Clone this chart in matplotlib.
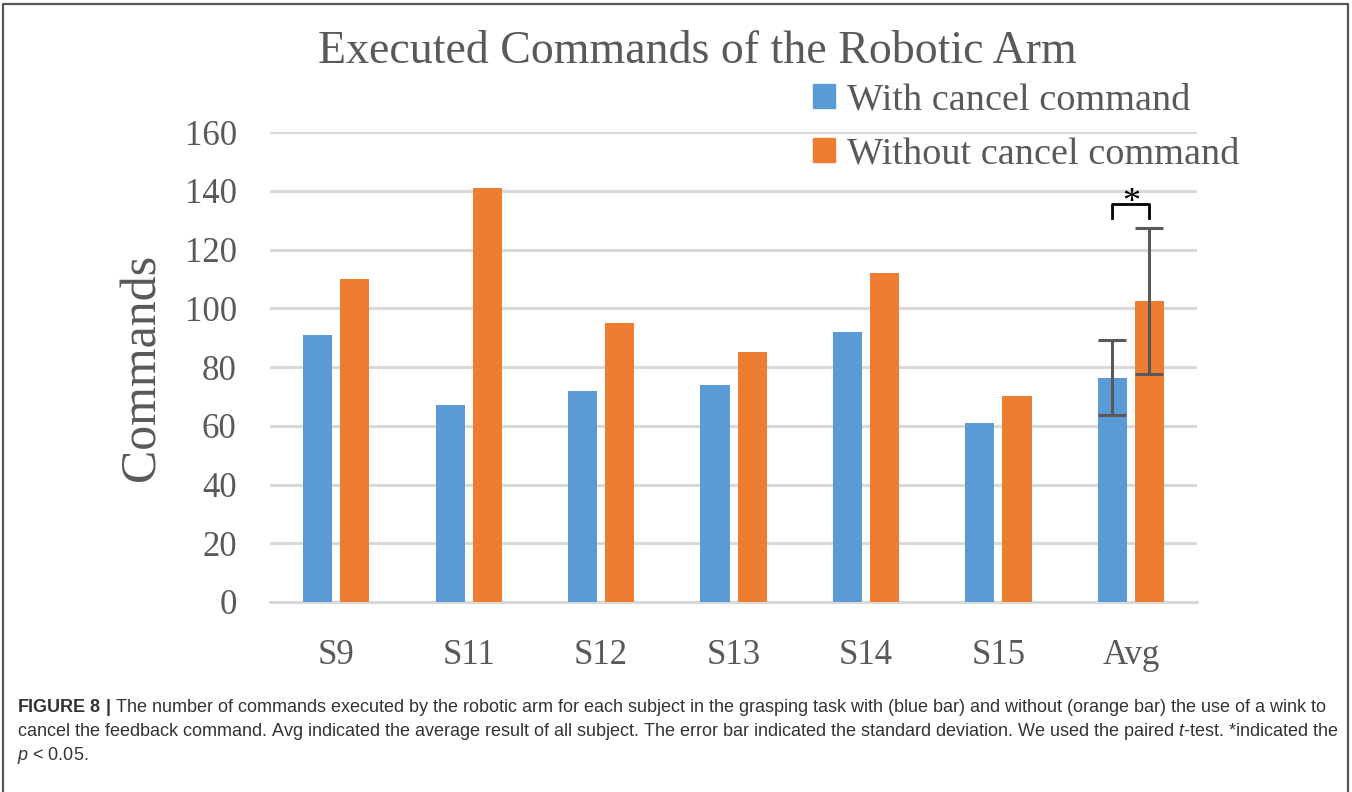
import numpy as np
import matplotlib
matplotlib.use("Agg")
import matplotlib.pyplot as plt
from matplotlib.patches import Patch
from matplotlib.lines import Line2D

# data
subjects = ["S9", "S11", "S12", "S13", "S14", "S15", "Avg"]
with_cancel = [91, 67, 72, 74, 92, 61, 76.3]
without_cancel = [110, 141, 95, 85, 112, 70, 102.5]
avg_sd_with = 12.8
avg_sd_without = 24.9
series_names = ["With cancel command", "Without cancel command"]
yticks = [0, 20, 40, 60, 80, 100, 120, 140, 160]

blue = "#5B9BD5"
orange = "#ED7D31"
grey_txt = "#595959"
grid_c = "#D9D9D9"

plt.rcParams['mathtext.fontset'] = 'custom'
plt.rcParams['mathtext.rm'] = 'Liberation Sans'
plt.rcParams['mathtext.it'] = 'Liberation Sans:italic'
plt.rcParams['mathtext.bf'] = 'Liberation Sans:bold'

serif = "Liberation Serif"

fig = plt.figure(figsize=(13.52, 7.92), dpi=100)
ax = fig.add_axes([0.1997, 0.2399, 0.6857, 0.5934])

x = np.arange(len(subjects))
w = 0.22
off = 0.14
ax.bar(x - off, with_cancel, w, color=blue, zorder=3)
ax.bar(x + off, without_cancel, w, color=orange, zorder=3)

# error bars on the average only
ax.errorbar(x[-1] - off, with_cancel[-1], yerr=avg_sd_with, fmt="none",
            ecolor=grey_txt, elinewidth=2.2, capsize=10, capthick=2.2, zorder=4)
ax.errorbar(x[-1] + off, without_cancel[-1], yerr=avg_sd_without, fmt="none",
            ecolor=grey_txt, elinewidth=2.2, capsize=10, capthick=2.2, zorder=4)

# significance bracket
bx0, bx1 = x[-1] - off, x[-1] + off
ax.plot([bx0, bx0, bx1, bx1], [130.7, 135.5, 135.5, 130.7], color="black",
        lw=2, zorder=4, clip_on=False)
ax.text((bx0 + bx1) / 2, 130.2, "*", ha="center", va="bottom", fontsize=26,
        family=serif, color="black")

ax.set_xlim(-0.5, len(subjects) - 0.5)
ax.set_ylim(0, 160)
ax.set_yticks(yticks)
ax.set_xticks(x)
ax.set_xticklabels(subjects)
ax.yaxis.grid(True, color=grid_c, lw=2.2, zorder=0)
ax.set_axisbelow(True)
for s in ["top", "right", "left"]:
    ax.spines[s].set_visible(False)
ax.spines["bottom"].set_color(grid_c)
ax.spines["bottom"].set_linewidth(2.2)
ax.tick_params(axis="both", length=0, labelsize=25, labelcolor=grey_txt)
ax.tick_params(axis="y", pad=24)
ax.tick_params(axis="x", pad=27)
for lab in ax.get_xticklabels() + ax.get_yticklabels():
    lab.set_family(serif)

ax.set_ylabel("Commands", fontsize=36, family=serif, color=grey_txt, labelpad=14)

fig.text(0.5155, 0.935, "Executed Commands of the Robotic Arm", ha="center",
         va="center", fontsize=33, family=serif, color=grey_txt)

handles = [Patch(color=blue), Patch(color=orange)]
leg = fig.legend(handles, series_names, loc="upper left",
                 bbox_to_anchor=(0.601, 0.895), frameon=False,
                 prop={"family": serif, "size": 27.5}, labelcolor=grey_txt,
                 handlelength=0.6, handleheight=0.6, handletextpad=0.3,
                 labelspacing=0.5, borderpad=0, borderaxespad=0)

# caption
cap_lines = [
    r"$\mathbf{FIGURE\ 8\ |}$ The number of commands executed by the robotic arm for each subject in the grasping task with (blue bar) and without (orange bar) the use of a wink to",
    r"cancel the feedback command. Avg indicated the average result of all subject. The error bar indicated the standard deviation. We used the paired $t$-test. *indicated the",
    r"$p$ < 0.05.",
]
cap_y = [707, 731, 755]
for line, yy in zip(cap_lines, cap_y):
    fig.text(17 / 1352, 1 - yy / 792, line, ha="left", va="center",
             fontsize=13.0, family="Liberation Sans", color="#333333")

# outer frame
fig.add_artist(Line2D([3 / 1352, 3 / 1352, 1348 / 1352, 1348 / 1352],
                      [0, 1 - 4 / 792, 1 - 4 / 792, 0],
                      transform=fig.transFigure, color="#555555", lw=1.6))

fig.savefig("out.png", dpi=100)
